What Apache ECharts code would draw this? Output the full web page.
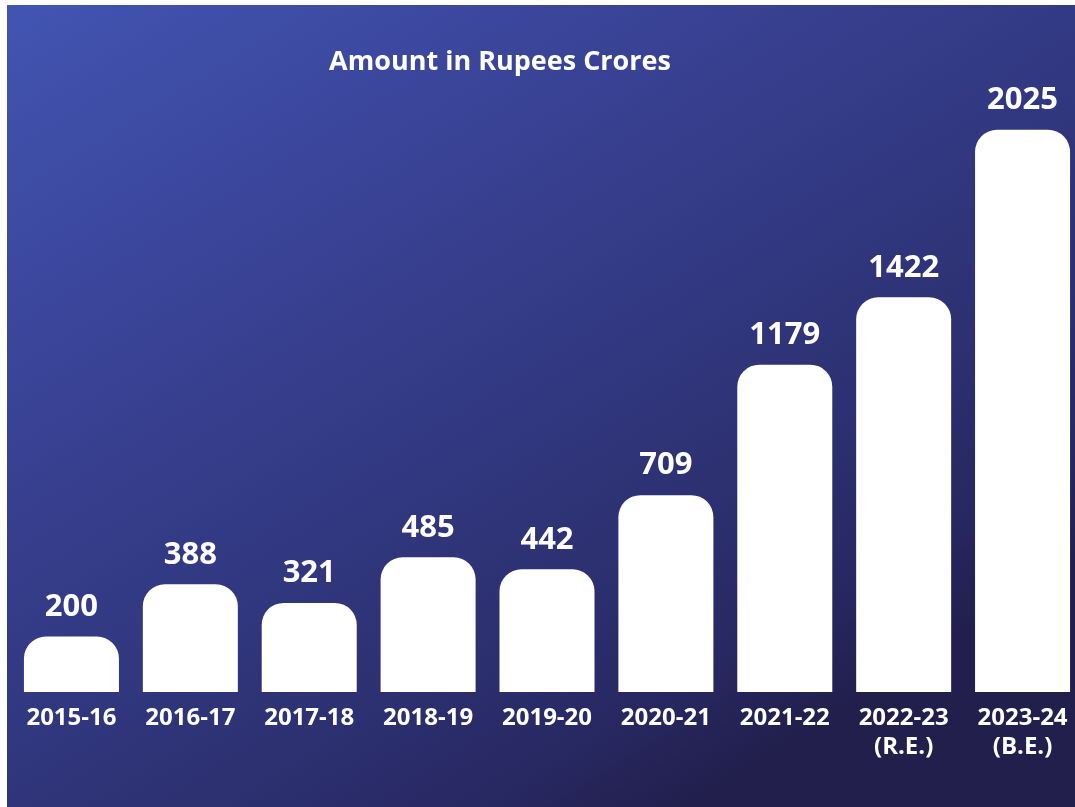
<!DOCTYPE html>
<html>
<head>
<meta charset="utf-8">
<script src="https://cdn.jsdelivr.net/npm/echarts@6/dist/echarts.min.js"></script>
<style>
  html, body { margin: 0; padding: 0; background: #fff; overflow: hidden; }
  #chart { position: absolute; left: 7px; top: 5px; width: 1090px; height: 802px; }
</style>
</head>
<body>
<div id="chart"></div>
<script>
const years = ["2015-16", "2016-17", "2017-18", "2018-19", "2019-20", "2020-21", "2021-22", "2022-23\n(R.E.)", "2023-24\n(B.E.)"];
const amounts = [200, 388, 321, 485, 442, 709, 1179, 1422, 2025];
const title = "Amount in Rupees Crores";

const chart = echarts.init(document.getElementById("chart"));

const option = {
  // background fades from bright blue (top-left) to navy (bottom-right)
  backgroundColor: new echarts.graphic.LinearGradient(0, 0, 0.5, 1.1, [
    { offset: 0, color: "#4254b2" },
    { offset: 0.42, color: "#373f8f" },
    { offset: 0.75, color: "#2d3172" },
    { offset: 0.91, color: "#272760" },
    { offset: 1, color: "#221f4c" },
  ]),
  title: {
    text: title,
    left: 488,
    top: 39,
    textAlign: "center",
    textStyle: {
      color: "#fff",
      fontFamily: "Open Sans",
      fontWeight: "bold",
      fontSize: 27,
    },
  },
  grid: {
    left: 5,
    right: 15,
    top: 104,
    bottom: 115,
  },
  xAxis: {
    type: "category",
    data: years,
    axisLine: { show: false },
    axisTick: { show: false },
    axisLabel: {
      color: "#fff",
      fontFamily: "Open Sans",
      fontWeight: "bold",
      fontSize: 24,
      lineHeight: 29,
      margin: 12,
      interval: 0,
    },
  },
  yAxis: {
    type: "value",
    min: 0,
    max: 2100,
    show: false,
    splitLine: { show: false },
  },
  series: [
    {
      type: "bar",
      data: amounts,
      barWidth: 95,
      itemStyle: {
        color: "#fff",
        borderRadius: [22, 22, 0, 0],
      },
      label: {
        show: true,
        position: "top",
        distance: 14,
        color: "#fff",
        fontFamily: "Open Sans",
        fontWeight: "bold",
        fontSize: 31,
      },
    },
  ],
};

chart.setOption(option);
</script>
</body>
</html>
